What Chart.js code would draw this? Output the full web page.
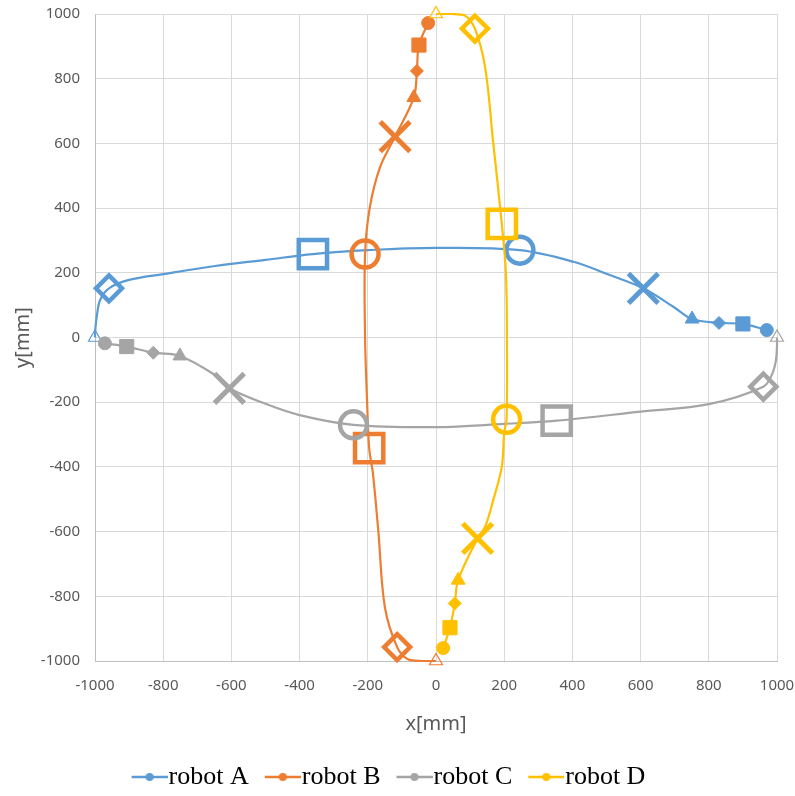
<!DOCTYPE html>
<html>
<head>
<meta charset="utf-8">
<script src="https://cdn.jsdelivr.net/npm/chart.js@4.4.1/dist/chart.umd.min.js"></script>
<style>
    html, body {margin: 0; padding: 0; background: #fff;}
    #wrap {width: 795px; height: 796px;}
</style>
</head>
<body>
<div id="wrap"><canvas id="chart" width="795" height="796"></canvas></div>
<script>
// ---- data (mm) ----
const seriesNames = ['robot A', 'robot B', 'robot C', 'robot D'];
const axisTicks = [-1000, -800, -600, -400, -200, 0, 200, 400, 600, 800, 1000];

const robotA_x = [970, 900, 830, 751, 696, 608, 510, 403, 246, 0, -200, -361, -500, -648, -800, -900, -959, -985, -995, -999, -1000];
const robotA_y = [23, 42, 45, 57, 95, 152, 193, 234, 270, 277, 270, 258, 240, 221, 196, 178, 152, 116, 64, 25, 0];
const robotA_m = ['dot', 'sq', 'dia', 'tri', '', 'X', '', '', 'O', '', '', 'SQ', '', '', '', '', 'DIA', '', '', '', 'end'];

const robotB_x = [-23, -50, -56, -65, -120, -164, -194, -208, -208, -202, -196, -185, -169, -150, -114, -82, -40, 0];
const robotB_y = [972, 904, 824, 742, 621, 527, 403, 258, 0, -200, -342, -420, -600, -833, -957, -995, -1000, -1000];
const robotB_m = ['dot', 'sq', 'dia', 'tri', 'X', '', '', 'O', '', '', 'SQ', '', '', '', 'DIA', '', '', 'end'];

const robotC_x = [-971, -907, -829, -751, -648, -606, -500, -400, -242, 0, 200, 354, 600, 800, 960, 985, 997, 1000, 1000];
const robotC_y = [-18, -28, -47, -57, -116, -157, -205, -240, -270, -277, -267, -257, -229, -206, -152, -115, -70, -25, 0];
const robotC_m = ['dot', 'sq', 'dia', 'tri', '', 'X', '', '', 'O', '', '', 'SQ', '', '', 'DIA', '', '', '', 'end'];

const robotD_x = [21, 41, 55, 65, 122, 144, 168, 193, 200, 207, 208, 205, 193, 167, 144, 114, 85, 45, 0];
const robotD_y = [-960, -897, -822, -750, -621, -585, -502, -399, -295, -253, 0, 200, 351, 610, 836, 955, 995, 1000, 1000];
const robotD_m = ['dot', 'sq', 'dia', 'tri', 'X', '', '', '', '', 'O', '', '', 'SQ', '', '', 'DIA', '', '', 'end'];

const COLORS = ['#5B9BD5', '#ED7D31', '#A5A5A5', '#FFC000'];

// marker look per kind (small filled ones, big hollow ones, open end triangle)
const MARKERS = {
    '':  {style: 'circle',   r: 0,    bw: 0,   fill: false},
    dot: {style: 'circle',   r: 6.5,  bw: 1,   fill: true},
    sq:  {style: 'rect',     r: 10,   bw: 1,   fill: true},
    dia: {style: 'rectRot',  r: 6.5,  bw: 1,   fill: true},
    tri: {style: 'triangle', r: 8,    bw: 1,   fill: true},
    X:   {style: 'crossRot', r: 21,   bw: 5,   fill: false},
    O:   {style: 'circle',   r: 13.5, bw: 4.5, fill: false},
    SQ:  {style: 'rect',     r: 20,   bw: 4.5, fill: false},
    DIA: {style: 'rectRot',  r: 13,   bw: 4.5, fill: false},
    end: {style: 'triangle', r: 7.5,  bw: 1.2, fill: false},
};

function makeDataset(i, xs, ys, marks) {
    const color = COLORS[i];
    const m = marks.map(k => MARKERS[k]);
    return {
        label: seriesNames[i],
        data: xs.map((x, j) => ({x: x, y: ys[j]})),
        showLine: true,
        clip: false,
        borderColor: color,
        borderWidth: 2.2,
        tension: 0.35,
        order: 3 - i,   // later robots drawn on top, like the original
        pointStyle: m.map(d => d.style),
        pointRadius: m.map(d => d.r),
        pointBorderWidth: m.map(d => d.bw),
        pointBorderColor: color,
        pointBackgroundColor: m.map(d => d.fill ? color : 'rgba(255,255,255,0)'),
    };
}

// legend icon: short line with a dot, drawn into a small canvas
function legendIcon(color) {
    const c = document.createElement('canvas');
    c.width = 48;
    c.height = 12;
    const g = c.getContext('2d');
    g.strokeStyle = color;
    g.lineWidth = 2.5;
    g.beginPath();
    g.moveTo(12, 6);
    g.lineTo(48, 6);
    g.stroke();
    g.fillStyle = color;
    g.beginPath();
    g.arc(30, 6, 4, 0, Math.PI * 2);
    g.fill();
    return c;
}

const tickFont = {family: 'Noto Sans', size: 15};
const titleFont = {family: 'Noto Sans', size: 20};
const gridOpts = {color: '#d9d9d9', lineWidth: 1, drawTicks: false};
const borderOpts = {color: '#bfbfbf', width: 1};
const plainNumber = v => String(v);

new Chart(document.getElementById('chart'), {
    type: 'scatter',
    data: {
        datasets: [
            makeDataset(0, robotA_x, robotA_y, robotA_m),
            makeDataset(1, robotB_x, robotB_y, robotB_m),
            makeDataset(2, robotC_x, robotC_y, robotC_m),
            makeDataset(3, robotD_x, robotD_y, robotD_m),
        ]
    },
    options: {
        responsive: false,
        animation: false,
        events: [],
        layout: {padding: {top: 14, right: 18, bottom: -4, left: 0}},
        scales: {
            x: {
                type: 'linear',
                min: axisTicks[0],
                max: axisTicks[axisTicks.length - 1],
                afterBuildTicks: scale => { scale.ticks = axisTicks.map(v => ({value: v})); },
                ticks: {font: tickFont, color: '#595959', padding: 16, maxRotation: 0, callback: plainNumber},
                grid: gridOpts,
                border: borderOpts,
                title: {display: true, text: 'x[mm]', font: titleFont, color: '#595959', padding: {top: 0, bottom: 12}},
                afterFit: scale => {
                    scale.height = 87;
                    scale.paddingLeft = 0;
                    scale.paddingRight = 0;
                },
            },
            y: {
                type: 'linear',
                min: axisTicks[0],
                max: axisTicks[axisTicks.length - 1],
                afterBuildTicks: scale => { scale.ticks = axisTicks.map(v => ({value: v})); },
                ticks: {font: tickFont, color: '#595959', padding: 15, callback: plainNumber},
                grid: gridOpts,
                border: borderOpts,
                title: {display: true, text: 'y[mm]', font: titleFont, color: '#595959', padding: {top: 11, bottom: 0}},
                afterFit: scale => {
                    scale.width = 95;
                    scale.paddingTop = 0;
                    scale.paddingBottom = 0;
                },
            }
        },
        plugins: {
            tooltip: {enabled: false},
            legend: {
                position: 'bottom',
                labels: {
                    usePointStyle: true,
                    pointStyleWidth: 24,
                    padding: 16,
                    color: '#000',
                    font: {family: 'Liberation Serif', size: 26},
                    // keep A,B,C,D order regardless of draw order
                    generateLabels: chart => chart.data.datasets.map((ds, i) => ({
                        text: ds.label,
                        fillStyle: COLORS[i],
                        strokeStyle: COLORS[i],
                        lineWidth: 0,
                        pointStyle: legendIcon(COLORS[i]),
                        hidden: false,
                        datasetIndex: i,
                    })),
                }
            }
        }
    }
});
</script>
</body>
</html>
